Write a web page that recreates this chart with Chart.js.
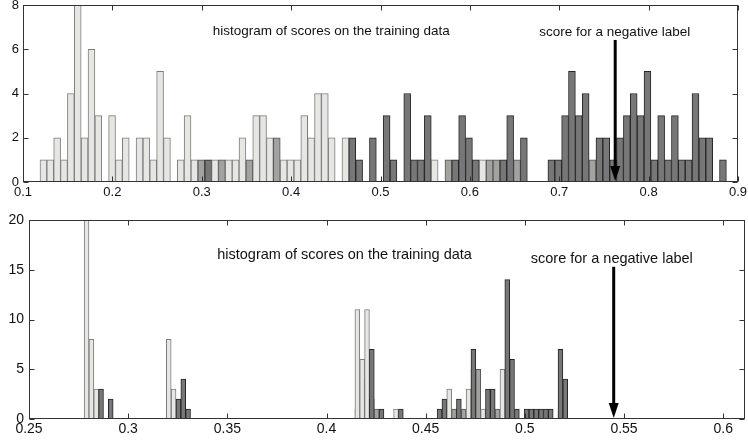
<!DOCTYPE html>
<html>
<head>
<meta charset="utf-8">
<script src="https://cdn.jsdelivr.net/npm/chart.js@4.4.0/dist/chart.umd.min.js"></script>
<style>
  body { margin: 0; background: #fff; width: 748px; height: 444px; overflow: hidden; position: relative; }
  canvas { position: absolute; left: 0; }
  #top { top: 0; }
  #bot { top: 205px; }
</style>
</head>
<body>
<canvas id="top" width="748" height="210"></canvas>
<canvas id="bot" width="748" height="239"></canvas>
<script>
// upper histogram: 100 bins between topRange[0] and topRange[1]
var topRange = [0.119, 0.887];
var topLight = [
  1,1,2,1,4,8,2,6,3,0,  3,1,2,0,2,2,1,5,2,0,  1,3,1,0,0,1,0,1,1,2,  0,3,3,2,0,1,1,1,3,2,
  4,4,2,0,2,0,0,0,0,0,  0,0,0,0,0,0,0,1,0,0,  0,0,0,0,1,0,0,0,0,0,  0,0,0,0,0,0,0,0,0,0,
  0,0,0,0,0,0,0,0,0,0,  0,0,0,0,0,0,0,0,0,0
];
var topMedium = [
  0,0,0,0,0,0,0,0,0,0,  0,0,0,0,0,0,0,0,0,0,  0,0,0,1,0,0,1,0,0,0,  1,0,0,0,2,0,0,0,0,0,
  0,0,0,0,0,1,0,0,0,0,  0,0,0,0,0,0,1,0,0,1,  0,0,1,0,0,1,1,0,1,1,  0,0,0,0,0,0,0,0,0,0,
  1,0,0,0,0,0,0,0,0,0,  0,0,0,0,0,0,0,0,0,0
];
var topDark = [
  0,0,0,0,0,0,0,0,0,0,  0,0,0,0,0,0,0,0,0,0,  0,0,0,0,1,0,0,0,0,0,  0,0,0,0,0,0,0,0,0,0,
  0,0,0,0,0,2,1,0,2,0,  3,1,0,4,1,1,3,0,0,0,  1,3,2,1,0,0,0,1,3,0,  2,0,0,0,1,1,3,5,3,4,
  0,2,2,1,2,3,4,3,5,1,  3,1,3,1,1,4,2,2,0,1
];
var topXTicks = [0.1, 0.2, 0.3, 0.4, 0.5, 0.6, 0.7, 0.8, 0.9];
var topYTicks = [0, 2, 4, 6, 8];

// lower histogram
var botRange = [0.2778, 0.5216];
var botLight = [
  20,8,3,0,0,0,0,0,0,0,  0,0,0,0,0,0,0,8,3,0,  0,0,0,0,0,0,0,0,0,0,  0,0,0,0,0,0,0,0,0,0,
  0,0,0,0,0,0,0,0,0,0,  0,0,0,0,0,0,11,6,11,0,  0,0,0,0,1,0,0,0,0,0,  0,0,0,0,0,3,0,0,0,3,
  0,0,1,0,0,0,5,0,0,0,  0,0,0,0,0,0,0,0,0,0
];
var botMedium = [
  0,3,2,0,0,0,0,0,0,0,  0,0,0,0,0,0,0,1,1,1,  1,0,0,0,0,0,0,0,0,0,  0,0,0,0,0,0,0,0,0,0,
  0,0,0,0,0,0,0,0,0,0,  0,0,0,0,0,0,1,4,2,2,  1,0,0,0,0,0,0,0,0,0,  0,0,0,0,0,0,1,1,1,1,
  5,5,0,0,1,1,0,5,0,0,  0,0,0,0,0,0,0,0,1,0
];
var botDark = [
  0,0,0,3,0,2,0,0,0,0,  0,0,0,0,0,0,0,0,0,2,  4,1,0,0,0,0,0,0,0,0,  0,0,0,0,0,0,0,0,0,0,
  0,0,0,0,0,0,0,0,0,0,  0,0,0,0,0,0,0,0,0,7,  0,1,0,0,0,1,0,0,0,0,  0,0,0,1,2,0,0,2,0,0,
  7,0,0,3,3,0,0,14,6,1,  0,1,1,1,1,1,1,0,7,4
];
var botXTicks = [0.25, 0.3, 0.35, 0.4, 0.45, 0.5, 0.55, 0.6];
var botYTicks = [0, 5, 10, 15, 20];

var shades = ['#e6e6e2', '#a2a2a0', '#777777'];
var edges = ['#7c7c7c', '#555555', '#262626'];

// shorter bars sit in front of taller ones, so split each bin into layers by height
function buildLayers(range, series) {
  var n = series[0].length, w = (range[1] - range[0]) / n;
  var data = [[], [], []], fills = [[], [], []], lines = [[], [], []];
  for (var i = 0; i < n; i++) {
    var x = range[0] + (i + 0.5) * w;
    var here = [];
    for (var s = 0; s < series.length; s++) {
      if (series[s][i] > 0) here.push({ v: series[s][i], s: s });
    }
    here.sort(function (a, b) { return b.v - a.v; });
    for (var k = 0; k < 3; k++) {
      var e = here[k];
      data[k].push({ x: x, y: e ? e.v : null });
      fills[k].push(e ? shades[e.s] : 'rgba(0,0,0,0)');
      lines[k].push(e ? edges[e.s] : 'rgba(0,0,0,0)');
    }
  }
  return data.map(function (d, k) {
    return {
      data: d, backgroundColor: fills[k], borderColor: lines[k], borderWidth: 1,
      borderSkipped: false, barPercentage: 1, categoryPercentage: 1, grouped: false
    };
  });
}

function fmt(v) { return String(+Number(v).toFixed(2)); }

var boxPlugin = {
  id: 'box',
  afterDatasetsDraw: function (chart, args, o) {
    var c = chart.ctx, a = chart.chartArea, xs = chart.scales.x, ys = chart.scales.y;
    var L = Math.round(a.left) + 0.5, R = Math.round(a.right) - 0.5;
    var T = Math.round(a.top) + 0.5, B = Math.round(a.bottom) - 0.5;
    c.save();
    c.strokeStyle = '#333';
    c.lineWidth = 1;
    c.beginPath();
    xs.ticks.forEach(function (t) {
      var p = Math.round(xs.getPixelForValue(t.value)) + 0.5;
      c.moveTo(p, B); c.lineTo(p, B - 5);
      c.moveTo(p, T); c.lineTo(p, T + 5);
    });
    ys.ticks.forEach(function (t) {
      var p = Math.round(ys.getPixelForValue(t.value)) + 0.5;
      c.moveTo(L, p); c.lineTo(L + 5, p);
      c.moveTo(R, p); c.lineTo(R - 5, p);
    });
    c.stroke();
    c.strokeRect(L, T, R - L, B - T);

    // labels and arrow
    c.fillStyle = '#111';
    c.font = o.fontSize + 'px "Liberation Sans", Arial, sans-serif';
    c.textBaseline = 'middle';
    c.textAlign = 'left';
    o.texts.forEach(function (t) {
      c.fillText(t.text, xs.getPixelForValue(t.x), ys.getPixelForValue(t.y));
    });
    var ax = xs.getPixelForValue(o.arrow.x);
    var y0 = ys.getPixelForValue(o.arrow.from), y1 = ys.getPixelForValue(o.arrow.to) - 1;
    c.strokeStyle = '#000';
    c.fillStyle = '#000';
    c.lineWidth = 3;
    c.beginPath();
    c.moveTo(ax, y0); c.lineTo(ax, y1 - 10);
    c.stroke();
    c.beginPath();
    c.moveTo(ax - 5, y1 - 15);
    c.lineTo(ax + 5, y1 - 15);
    c.lineTo(ax, y1);
    c.closePath();
    c.fill();
    c.restore();
  }
};

// the box sizes come from layout padding only, not from label overhang
function noPad(s) {
  s.paddingTop = 0; s.paddingBottom = 0; s.paddingLeft = 0; s.paddingRight = 0;
}

function makeChart(id, layers, xTicks, xMax, yTicks, sizes, note) {
  new Chart(document.getElementById(id), {
    type: 'bar',
    data: { datasets: layers },
    options: {
      responsive: false,
      animation: false,
      events: [],
      layout: { padding: { top: sizes.top, right: sizes.right, left: 0, bottom: 0 } },
      plugins: { legend: { display: false }, tooltip: { enabled: false }, box: note },
      scales: {
        x: {
          type: 'linear', offset: false, min: xTicks[0], max: xMax,
          grid: { display: false, drawTicks: false }, border: { display: false },
          afterBuildTicks: function (s) { s.ticks = xTicks.map(function (v) { return { value: v }; }); },
          afterFit: function (s) { s.height = sizes.xh; noPad(s); },
          ticks: {
            padding: sizes.xpad, color: '#111', maxRotation: 0, autoSkip: false,
            font: { family: 'Liberation Sans', size: sizes.font },
            callback: function (v) { return fmt(v); }
          }
        },
        y: {
          min: yTicks[0], max: yTicks[yTicks.length - 1],
          grid: { display: false, drawTicks: false }, border: { display: false },
          afterBuildTicks: function (s) { s.ticks = yTicks.map(function (v) { return { value: v }; }); },
          afterFit: function (s) { s.width = sizes.yw; noPad(s); },
          ticks: {
            padding: sizes.ypad, color: '#111',
            font: { family: 'Liberation Sans', size: sizes.font },
            callback: function (v) { return fmt(v); }
          }
        }
      }
    },
    plugins: [boxPlugin]
  });
}

makeChart('top', buildLayers(topRange, [topLight, topMedium, topDark]), topXTicks, 0.9, topYTicks,
  { top: 5, right: 10, xh: 28, yw: 23, xpad: 3, ypad: 4, font: 13 },
  {
    fontSize: 13.5,
    texts: [
      { text: 'histogram of scores on the training data', x: 0.3123, y: 6.8 },
      { text: 'score for a negative label', x: 0.6777, y: 6.75 }
    ],
    arrow: { x: 0.7626, from: 6.42, to: 0 }
  });

makeChart('bot', buildLayers(botRange, [botLight, botMedium, botDark]), botXTicks, 0.611, botYTicks,
  { top: 15, right: 3, xh: 25, yw: 29, xpad: 2, ypad: 5, font: 14 },
  {
    fontSize: 14.5,
    texts: [
      { text: 'histogram of scores on the training data', x: 0.3449, y: 16.5 },
      { text: 'score for a negative label', x: 0.503, y: 16.1 }
    ],
    arrow: { x: 0.5448, from: 15.3, to: 0 }
  });
</script>
</body>
</html>
